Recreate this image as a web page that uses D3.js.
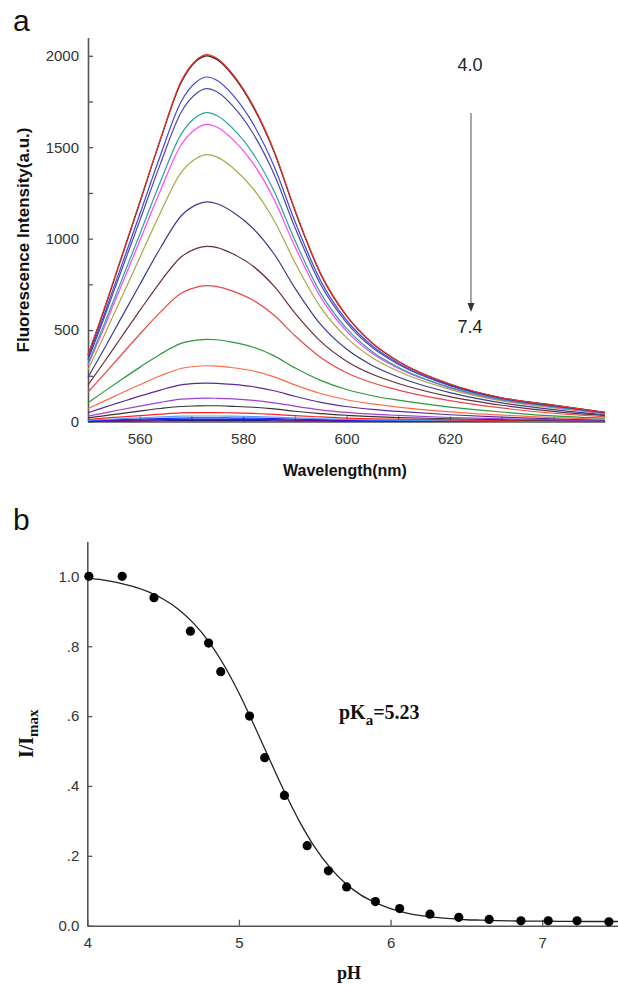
<!DOCTYPE html>
<html><head><meta charset="utf-8">
<script src="https://cdn.jsdelivr.net/npm/d3@7"></script>
<style>body{margin:0;background:#fff}svg{display:block}</style>
</head><body><svg id="c" width="618" height="985"></svg>
<script>
// ---------- Panel a data ----------
const wavelengths = [550,553,556,560,564,568,571,573,575,578,582,586,590,595,600,605,610,620,630,640,650];
const spec01 = [365,606,861,1200,1545,1860,1978,2006,1985,1900,1725,1480,1160,810,580,430,330,205,130,90,50];
const spec02 = [362,600,855,1195,1540,1852,1972,2000,1978,1893,1718,1474,1155,806,577,428,329,204,130,90,50];
const spec03 = [347,574,814,1132,1455,1749,1858,1884,1865,1786,1625,1396,1096,770,554,413,319,199,127,87,49];
const spec04 = [338,558,790,1097,1409,1690,1795,1820,1802,1726,1572,1352,1063,749,541,404,313,196,126,85,48];
const spec05 = [317,522,737,1023,1311,1570,1666,1689,1672,1603,1462,1259,992,702,509,382,297,187,120,81,45];
const spec06 = [307,505,712,987,1263,1512,1603,1625,1609,1543,1409,1214,958,680,494,372,291,184,118,79,44];
const spec07 = [283,462,648,895,1142,1361,1440,1459,1446,1388,1271,1099,871,624,459,349,275,176,113,74,42];
const spec08 = [242,391,545,748,949,1124,1186,1201,1191,1146,1054,916,731,531,396,306,243,158,102,65,37];
const spec09 = [200,320,443,606,764,900,947,958,951,917,848,740,594,438,330,258,208,136,89,55,32];
const spec10 = [160,255,350,477,598,701,735,743,738,713,662,581,470,350,267,212,172,114,74,45,26];
const spec11 = [103,162,220,296,368,427,445,449,447,433,406,359,294,225,175,141,117,79,52,31,18];
const spec12 = [70,110,149,201,250,290,302,305,303,294,276,244,200,153,119,96,79,53,35,21,12];
const spec13 = [48,76,103,139,172,200,208,210,209,203,190,168,138,105,82,66,55,37,24,14,8];
const spec14 = [29,46,63,84,105,122,127,128,127,124,116,102,84,64,50,40,33,22,15,9,5];
const spec15 = [20,31,42,57,71,82,85,86,86,83,78,69,56,43,34,27,22,15,10,6,3];
const spec16 = [11,18,24,32,40,47,49,49,49,47,44,39,32,25,19,15,13,9,6,3,2];
const spec17 = [7,11,15,20,25,29,30,30,30,29,27,24,20,15,12,9,8,5,3,2,1];
const spec18 = [5,7,10,13,16,19,20,20,20,19,18,16,13,10,8,6,5,4,2,1,1];
const spec19 = [3,4,6,8,10,11,12,12,12,12,11,10,8,6,5,4,3,2,1,1,0];
const spec20 = [1,2,2,3,4,5,5,5,5,5,5,4,3,3,2,2,1,1,1,0,0];
const spectra = [spec20,spec19,spec18,spec17,spec16,spec15,spec14,spec13,spec12,spec11,spec10,spec09,spec08,spec07,spec06,spec05,spec04,spec03,spec02,spec01];
const spectraColors = ["#202080","#800080","#2020ff","#4aa0ff","#ff2020","#333333","#a040d0","#5a2a9a","#ff6a4a","#2a9a3a","#e84848","#6b2e3a","#3d3d8f","#a8a848","#ff44ff","#2aa0a0","#4a4a9a","#4444dd","#2a1a1a","#e8332a"];
const wlTicks = [560,570,580,590,600,610,620,630,640];
const wlTickLabels = [560,580,600,620,640];
const intTicks = [0,250,500,750,1000,1250,1500,1750,2000];
const intTickLabels = [0,500,1000,1500,2000];

// ---------- Panel b data ----------
const pHPoints = [4.01,4.23,4.44,4.68,4.80,4.88,5.07,5.17,5.30,5.45,5.59,5.71,5.90,6.06,6.26,6.45,6.65,6.86,7.04,7.23,7.44];
const ratioPoints = [1.0,1.0,0.939,0.843,0.809,0.727,0.600,0.481,0.373,0.229,0.157,0.111,0.069,0.049,0.033,0.024,0.018,0.014,0.014,0.014,0.011];
const fitPH = [4.0,4.1,4.2,4.3,4.4,4.5,4.6,4.7,4.8,4.9,5.0,5.1,5.2,5.3,5.4,5.5,5.6,5.7,5.8,5.9,6.0,6.1,6.2,6.3,6.4,6.5,6.6,6.7,6.8,6.9,7.0,7.1,7.2,7.3,7.4,7.5];
const fitRatio = [0.995,0.990,0.982,0.971,0.956,0.935,0.906,0.866,0.814,0.747,0.666,0.574,0.478,0.384,0.298,0.225,0.167,0.122,0.089,0.066,0.049,0.037,0.029,0.024,0.020,0.017,0.016,0.0145,0.0137,0.013,0.013,0.0125,0.0122,0.012,0.012,0.012];
const pHTicks = [4,5,6,7];
const pHTickLabels = ["4","5","6","7"];
const ratioTicks = [0,0.2,0.4,0.6,0.8,1.0];
const ratioTickLabels = ["0.0",".2",".4",".6",".8","1.0"];

const sans = "'Liberation Sans', Arial, Helvetica, sans-serif";
const serif = "'Liberation Serif', 'Times New Roman', serif";
const svg = d3.select("#c");

function styleAxis(g, col) {
  g.select(".domain").attr("stroke", col).attr("stroke-width", 1.6);
  g.selectAll(".tick line").attr("stroke", col).attr("stroke-width", 1.3);
  g.selectAll(".tick text").attr("fill", "#333").attr("font-family", sans).attr("font-size", 15);
}

// ===== Panel a =====
const x1 = d3.scaleLinear().domain([550,650]).range([88,605]);
const y1 = d3.scaleLinear().domain([0,2100]).range([421.5,37.5]);

svg.append("g").attr("transform","translate(0,421.5)")
  .call(d3.axisBottom(x1).tickValues(wlTicks).tickSize(-5).tickSizeOuter(0).tickPadding(12)
    .tickFormat(d => wlTickLabels.includes(d) ? String(d) : ""))
  .call(g => styleAxis(g, "#555"));
svg.append("g").attr("transform","translate(88,0)")
  .call(d3.axisLeft(y1).tickValues(intTicks).tickSize(-5).tickSizeOuter(0).tickPadding(9)
    .tickFormat(d => intTickLabels.includes(d) ? String(d) : ""))
  .call(g => styleAxis(g, "#555"));

const line1 = d3.line().x((d,i) => x1(wavelengths[i])).y(d => y1(d)).curve(d3.curveMonotoneX);
svg.append("g").selectAll("path").data(spectra).join("path")
  .attr("d", line1).attr("fill","none")
  .attr("stroke", (d,i) => spectraColors[i]).attr("stroke-width", 1.2);

svg.append("text").attr("x",13).attr("y",31).attr("font-family",sans).attr("font-size",30).attr("fill","#111").text("a");
svg.append("text").attr("transform","translate(29,240) rotate(-90)").attr("text-anchor","middle")
  .attr("font-family",sans).attr("font-weight","bold").attr("font-size",17).attr("fill","#111")
  .text("Fluorescence Intensity(a.u.)");
svg.append("text").attr("x",345).attr("y",476).attr("text-anchor","middle")
  .attr("font-family",sans).attr("font-weight","bold").attr("font-size",16).attr("fill","#111")
  .text("Wavelength(nm)");
svg.append("text").attr("x",470).attr("y",71).attr("text-anchor","middle")
  .attr("font-family",sans).attr("font-size",18).attr("fill","#222").text("4.0");
svg.append("text").attr("x",470).attr("y",333).attr("text-anchor","middle")
  .attr("font-family",sans).attr("font-size",18).attr("fill","#222").text("7.4");
svg.append("line").attr("x1",471).attr("x2",471).attr("y1",113).attr("y2",305)
  .attr("stroke","#777").attr("stroke-width",1.3);
svg.append("path").attr("d","M467.5,303 L474.5,303 L471,312 Z").attr("fill","#333");

// ===== Panel b =====
const x2 = d3.scaleLinear().domain([4,7.5]).range([87.3,618]);
const y2 = d3.scaleLinear().domain([0,1.1]).range([925.7,541.4]);

svg.append("g").attr("transform","translate(0,925.7)")
  .call(d3.axisBottom(x2).tickValues(pHTicks).tickSize(-6).tickSizeOuter(0).tickPadding(12)
    .tickFormat((d,i) => pHTickLabels[i]))
  .call(g => styleAxis(g, "#555"));
svg.append("g").attr("transform","translate(87.3,0)")
  .call(d3.axisLeft(y2).tickValues(ratioTicks).tickSize(-5).tickSizeOuter(0).tickPadding(8)
    .tickFormat((d,i) => ratioTickLabels[i]))
  .call(g => styleAxis(g, "#555"));

const line2 = d3.line().x((d,i) => x2(fitPH[i])).y(d => y2(d)).curve(d3.curveMonotoneX);
svg.append("path").datum(fitRatio).attr("d", line2).attr("fill","none").attr("stroke","#222").attr("stroke-width",1.3);
svg.append("g").selectAll("circle").data(ratioPoints).join("circle")
  .attr("cx",(d,i) => x2(pHPoints[i])).attr("cy", d => y2(d)).attr("r",4.6).attr("fill","#000");

svg.append("text").attr("x",13).attr("y",530).attr("font-family",sans).attr("font-size",30).attr("fill","#111").text("b");
const yl = svg.append("text").attr("transform","translate(33,758) rotate(-90)")
  .attr("font-family",serif).attr("font-weight","bold").attr("font-size",20).attr("fill","#111");
yl.append("tspan").text("I/I");
yl.append("tspan").attr("dy",5).attr("font-size",15).text("max");
svg.append("text").attr("x",349).attr("y",979).attr("text-anchor","middle")
  .attr("font-family",serif).attr("font-weight","bold").attr("font-size",18).attr("fill","#111").text("pH");
const pk = svg.append("text").attr("x",339).attr("y",719)
  .attr("font-family",serif).attr("font-weight","bold").attr("font-size",20).attr("fill","#111");
pk.append("tspan").text("pK");
pk.append("tspan").attr("dy",6).attr("font-size",15).text("a");
pk.append("tspan").attr("dy",-6).text("=5.23");
</script></body></html>
